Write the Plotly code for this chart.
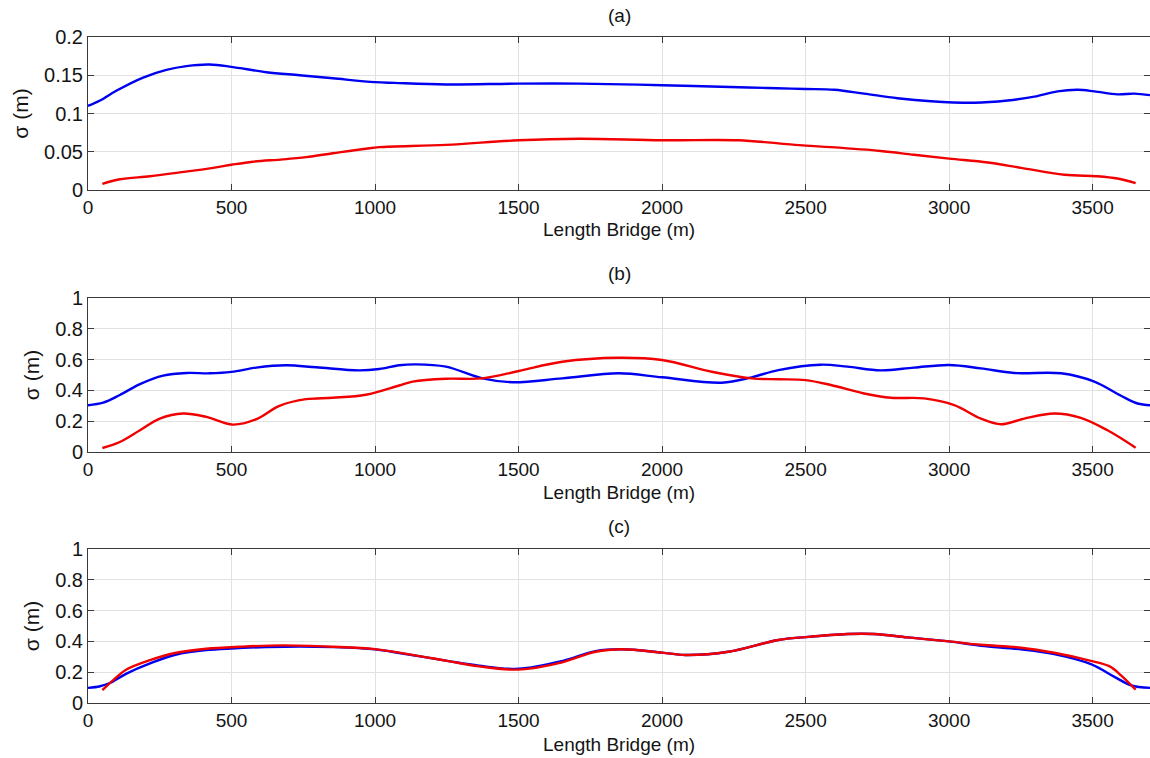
import plotly.graph_objects as go

# ---------------- data ----------------
# Panel (a)
a_blue_x = [0, 42, 100, 192, 273, 343, 424, 500, 621, 737, 853, 1000, 1069, 1247, 1500, 1712, 2000,
            2300, 2400, 2500, 2600, 2704, 2820, 2937, 3088, 3204, 3297, 3378, 3448, 3506, 3587, 3645, 3700]
a_blue_y = [0.110, 0.117, 0.130, 0.147, 0.157, 0.162, 0.164, 0.161, 0.154, 0.150, 0.146, 0.141, 0.140,
            0.138, 0.139, 0.139, 0.137, 0.134, 0.133, 0.132, 0.131, 0.126, 0.120, 0.116, 0.114, 0.117,
            0.122, 0.129, 0.131, 0.129, 0.125, 0.126, 0.124]
a_red_x = [50, 111, 216, 320, 436, 500, 574, 679, 760, 853, 968, 1015, 1247, 1500, 1712, 2000, 2266,
           2405, 2500, 2588, 2762, 2878, 3000, 3135, 3251, 3402, 3517, 3587, 3650]
a_red_y = [0.008, 0.014, 0.018, 0.023, 0.029, 0.033, 0.037, 0.040, 0.043, 0.048, 0.054, 0.056, 0.059,
           0.065, 0.067, 0.065, 0.065, 0.061, 0.058, 0.056, 0.051, 0.046, 0.041, 0.036, 0.029, 0.020,
           0.018, 0.015, 0.009]

# Panel (b)
b_blue_x = [0, 53, 111, 181, 262, 343, 424, 500, 586, 690, 795, 945, 1015, 1084, 1142, 1247, 1374,
            1478, 1652, 1849, 2000, 2208, 2312, 2405, 2553, 2646, 2762, 2878, 3000, 3111, 3227, 3390,
            3506, 3599, 3657, 3700]
b_blue_y = [0.304, 0.320, 0.370, 0.441, 0.496, 0.513, 0.511, 0.520, 0.548, 0.563, 0.550, 0.530, 0.539,
            0.563, 0.569, 0.554, 0.478, 0.453, 0.478, 0.511, 0.485, 0.450, 0.485, 0.532, 0.567, 0.554,
            0.530, 0.548, 0.565, 0.543, 0.513, 0.511, 0.457, 0.365, 0.315, 0.304]
b_red_x = [50, 111, 181, 250, 331, 412, 505, 585, 667, 760, 853, 968, 1084, 1131, 1247, 1374,
           1501, 1652, 1849, 2000, 2173, 2312, 2405, 2500, 2588, 2704, 2797, 2913, 3018, 3111, 3181,
           3262, 3366, 3459, 3552, 3650]
b_red_y = [0.026, 0.065, 0.141, 0.217, 0.250, 0.228, 0.178, 0.212, 0.300, 0.343, 0.352, 0.372,
           0.432, 0.457, 0.476, 0.478, 0.526, 0.586, 0.612, 0.597, 0.521, 0.478, 0.472, 0.467, 0.435,
           0.380, 0.352, 0.348, 0.304, 0.217, 0.180, 0.217, 0.250, 0.222, 0.141, 0.028]

# Panel (c)
c_blue_x = [0, 42, 76, 134, 216, 308, 412, 500, 621, 737, 853, 1000, 1084, 1247, 1362, 1501, 1652,
            1768, 1860, 2000, 2081, 2231, 2405, 2500, 2646, 2739, 2855, 3000, 3111, 3251, 3366, 3494,
            3576, 3634, 3700]
c_blue_y = [0.098, 0.109, 0.130, 0.191, 0.257, 0.315, 0.343, 0.354, 0.363, 0.367, 0.363, 0.348, 0.325,
            0.275, 0.242, 0.222, 0.272, 0.337, 0.349, 0.327, 0.312, 0.333, 0.409, 0.428, 0.448, 0.448,
            0.426, 0.400, 0.372, 0.348, 0.317, 0.252, 0.170, 0.115, 0.098]
c_red_x = [50, 88, 134, 216, 308, 412, 528, 679, 853, 1000, 1084, 1247, 1362, 1501, 1652, 1768, 1860,
           2000, 2081, 2231, 2405, 2500, 2646, 2739, 2855, 3000, 3111, 3251, 3366, 3494, 3558, 3599, 3650]
c_red_y = [0.083, 0.148, 0.217, 0.278, 0.326, 0.352, 0.365, 0.374, 0.365, 0.350, 0.327, 0.275, 0.238,
           0.217, 0.264, 0.333, 0.349, 0.327, 0.312, 0.333, 0.409, 0.428, 0.448, 0.448, 0.426, 0.400,
           0.378, 0.359, 0.326, 0.274, 0.239, 0.180, 0.087]

x_ticks = [0, 500, 1000, 1500, 2000, 2500, 3000, 3500]
a_y_ticks = [0, 0.05, 0.1, 0.15, 0.2]
bc_y_ticks = [0, 0.2, 0.4, 0.6, 0.8, 1]
panel_titles = ["(a)", "(b)", "(c)"]
x_title = "Length Bridge (m)"
y_title = "σ (m)"

# ---------------- styling ----------------
W, H = 1150, 758
BLUE = "#0000f0"
RED = "#f00000"
FONT = "Liberation Sans, Arial, sans-serif"
AXC = "#3a3a3a"
GRID = "#e2e2e2"
TXT = "#141414"

panels_px = [(37, 190), (298, 452), (549, 703)]
title_px = [16, 273, 526]
xtitle_px = [230, 492, 744]

fig = go.Figure()

series = [
    (a_blue_x, a_blue_y, a_red_x, a_red_y),
    (b_blue_x, b_blue_y, b_red_x, b_red_y),
    (c_blue_x, c_blue_y, c_red_x, c_red_y),
]

for i, (bx, by, rx, ry) in enumerate(series):
    xa = "x" if i == 0 else f"x{i+1}"
    ya = "y" if i == 0 else f"y{i+1}"
    fig.add_trace(go.Scatter(x=bx, y=by, mode="lines", xaxis=xa, yaxis=ya,
                             line=dict(color=BLUE, width=2.4, shape="spline", smoothing=1.0),
                             showlegend=False))
    fig.add_trace(go.Scatter(x=rx, y=ry, mode="lines", xaxis=xa, yaxis=ya,
                             line=dict(color=RED, width=2.4, shape="spline", smoothing=1.0),
                             showlegend=False))

layout = dict(
    width=W, height=H,
    margin=dict(l=88, r=0, t=0, b=0),
    paper_bgcolor="white", plot_bgcolor="white",
    font=dict(family=FONT, color=TXT),
    showlegend=False,
)

for i, (top, bot) in enumerate(panels_px):
    xk = "xaxis" if i == 0 else f"xaxis{i+1}"
    yk = "yaxis" if i == 0 else f"yaxis{i+1}"
    ya = "y" if i == 0 else f"y{i+1}"
    xa = "x" if i == 0 else f"x{i+1}"
    dom = [1 - bot / H, 1 - top / H]
    layout[xk] = dict(
        domain=[0, 1], anchor=ya, range=[0, 3700],
        tickvals=x_ticks, ticks="inside", ticklen=6, tickcolor=AXC,
        showline=True, linecolor=AXC, linewidth=1, mirror="ticks",
        showgrid=True, gridcolor=GRID, gridwidth=1, zeroline=False,
        tickfont=dict(size=19, family=FONT, color=TXT),
        automargin=False,
    )
    yt = a_y_ticks if i == 0 else bc_y_ticks
    yr = [0, 0.2] if i == 0 else [0, 1]
    layout[yk] = dict(
        domain=dom, anchor=xa, range=yr,
        tickvals=yt, ticks="inside", ticklen=6, tickcolor=AXC,
        showline=True, linecolor=AXC, linewidth=1, mirror="ticks",
        showgrid=True, gridcolor=GRID, gridwidth=1, zeroline=False,
        tickfont=dict(size=20, family=FONT, color=TXT),
        title=dict(text=y_title, font=dict(size=21, family=FONT, color=TXT), standoff=9),
        automargin=False,
    )

fig.update_layout(**layout)

for t, ypx in zip(panel_titles, title_px):
    fig.add_annotation(text=t, xref="paper", yref="paper", x=0.5, y=1 - ypx / H,
                       xanchor="center", yanchor="middle", showarrow=False,
                       font=dict(size=19, family=FONT, color=TXT))

for ypx in xtitle_px:
    fig.add_annotation(text=x_title, xref="paper", yref="paper", x=0.5, y=1 - ypx / H,
                       xanchor="center", yanchor="middle", showarrow=False,
                       font=dict(size=19, family=FONT, color=TXT))

fig.write_html("out.html")
